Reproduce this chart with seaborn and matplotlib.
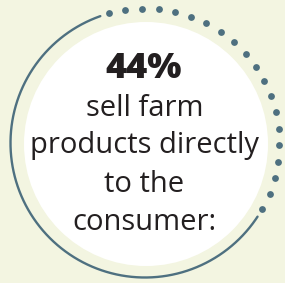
"""Circular stat badge: share of farms selling directly to the consumer."""

import matplotlib

matplotlib.use("Agg")

import matplotlib.pyplot as plt
import numpy as np
import seaborn as sns
from matplotlib.patches import Circle

# data
share_pct = [44]
headline = ["44%"]
caption_lines = ["sell farm", "products directly", "to the", "consumer:"]

BG = "#f3f5e1"
RING = "#4e7080"
INK = "#231f20"

sns.set_theme(style="white")
plt.rcParams["font.family"] = ["Open Sans", "DejaVu Sans"]

fig = plt.figure(figsize=(2.85, 2.83), dpi=100, facecolor=BG)
ax = fig.add_axes([0, 0, 1, 1])
ax.set_facecolor(BG)
ax.set_xlim(0, 285)
ax.set_ylim(283, 0)
ax.set_axis_off()

# white disc
ax.add_patch(Circle((146, 144), 122, facecolor="white", edgecolor="none", zorder=1))

# ring: dotted part is the share, solid part the rest
cx, cy, r = 145, 143, 134.5
share = share_pct[0] / 100
mid = 38.1
span = share * 360
inset = 11.8
gap = 3.9
dot_a0, dot_a1 = mid + span / 2 - inset, mid - span / 2 + inset
n_dots = 20
dot_ang = np.radians(np.linspace(dot_a0, dot_a1, n_dots))
sns.scatterplot(
    x=cx + r * np.cos(dot_ang),
    y=cy - r * np.sin(dot_ang),
    color=RING,
    s=24,
    linewidth=0,
    ax=ax,
    zorder=3,
)

solid_ang = np.radians(np.linspace(dot_a0 + gap, dot_a1 - gap + 360, 300))
ax.plot(
    cx + r * np.cos(solid_ang),
    cy - r * np.sin(solid_ang),
    color=RING,
    lw=1.7,
    solid_capstyle="round",
    zorder=3,
)

# text
ax.text(144, 78, headline[0], ha="center", va="baseline", fontsize=26,
        fontweight="heavy", color=INK, zorder=4)
baselines = [116.5, 152.5, 192.5, 229.5]
for line, yb in zip(caption_lines, baselines):
    ax.text(144.5, yb, line, ha="center", va="baseline", fontsize=21,
            color=INK, zorder=4)

fig.savefig("out.png", dpi=100, facecolor=BG)
